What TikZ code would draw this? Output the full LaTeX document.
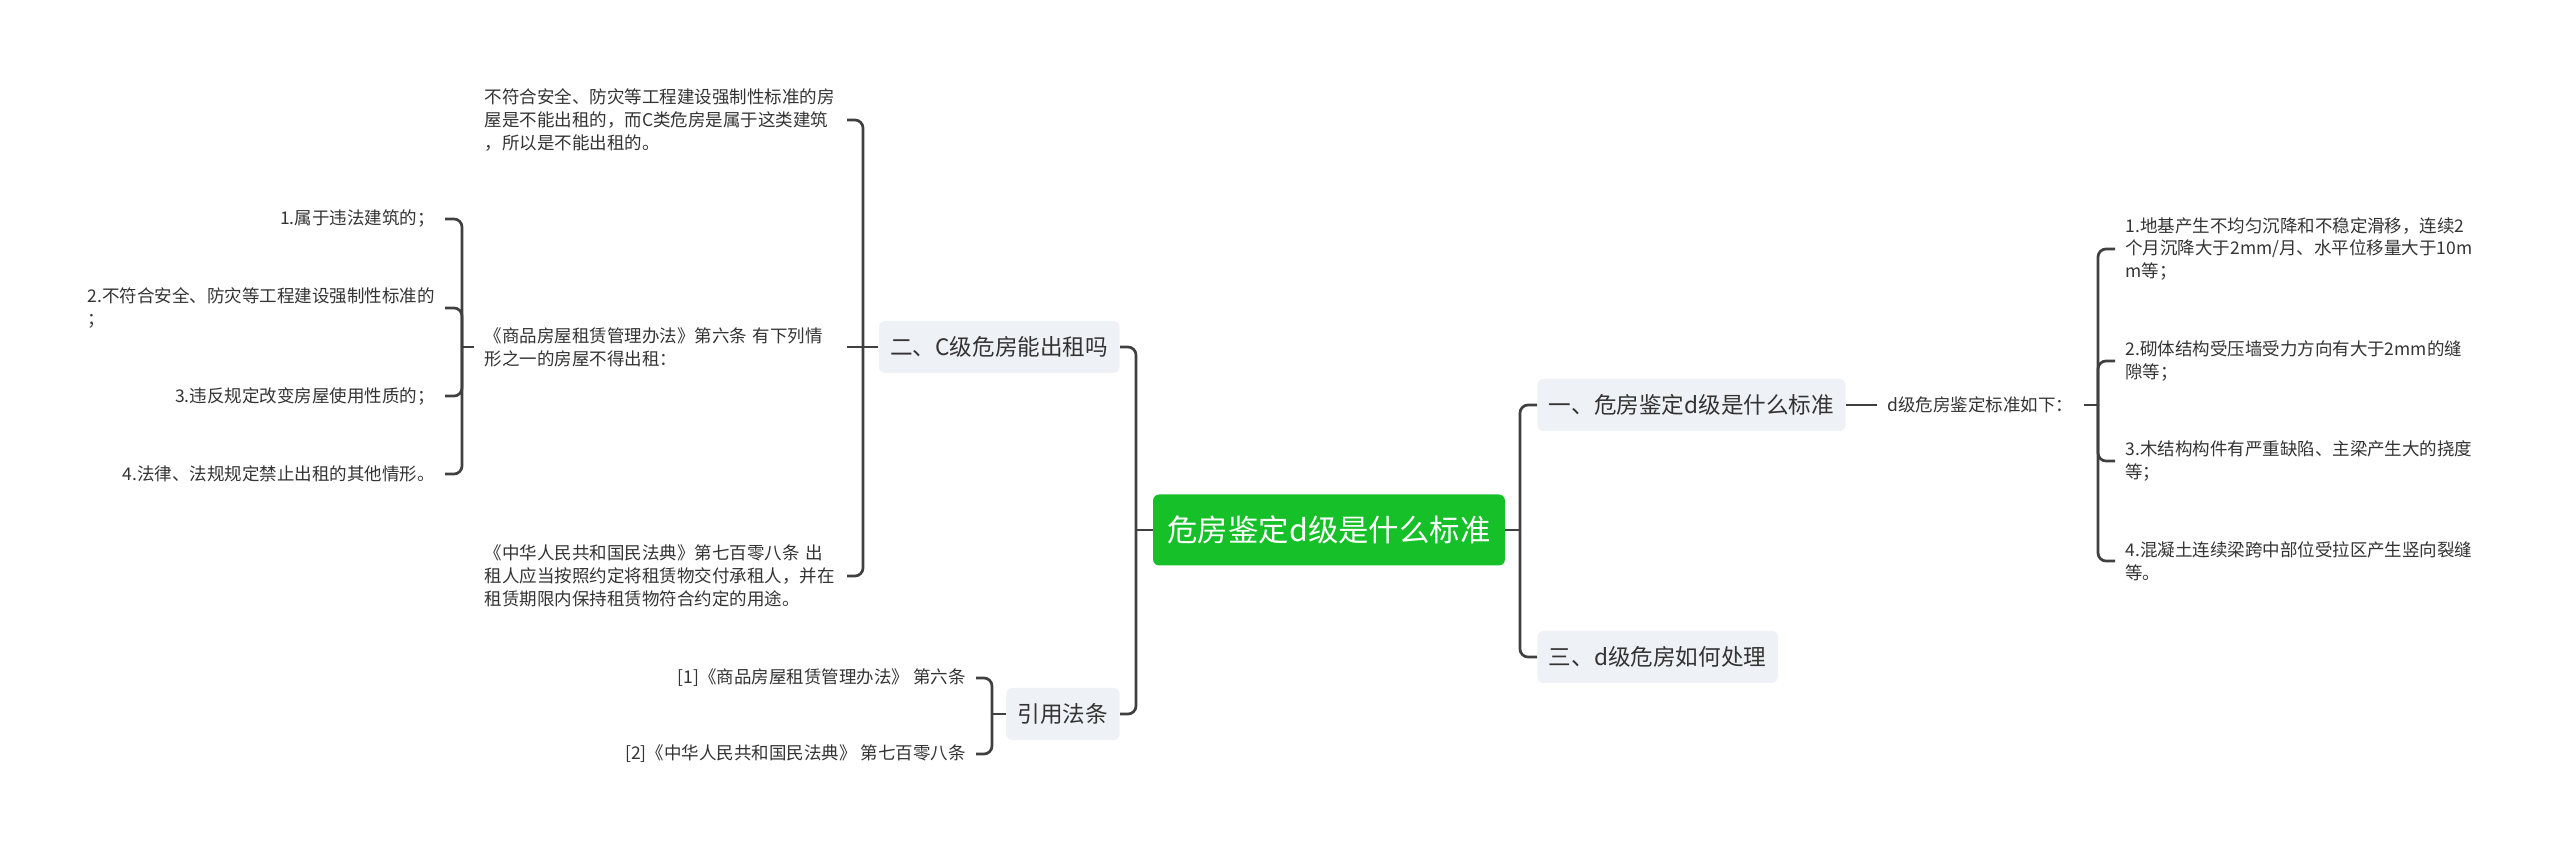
\documentclass[tikz,border=0pt]{standalone}
\usepackage{fontspec}
\setmainfont{Noto Sans CJK SC}

\definecolor{linegray}{RGB}{64,64,64}
\definecolor{textgray}{RGB}{51,51,51}
\definecolor{boxgray}{RGB}{238,241,245}
\definecolor{rootgreen}{RGB}{22,192,40}

\tikzset{
  conn/.style={draw=linegray, line width=1.35pt, rounded corners=4pt},
  elbow/.style={to path={|- (\tikztotarget)}},
  rootbox/.style={fill=rootgreen, text=white, rounded corners=3pt,
    font=\fontsize{15.2pt}{18pt}\selectfont, inner xsep=7.25pt, minimum height=35.5pt},
  topic/.style={fill=boxgray, text=textgray, rounded corners=3pt,
    font=\fontsize{11.3pt}{14pt}\selectfont, inner xsep=5.75pt, minimum height=26pt},
  leaf/.style={text=textgray, font=\fontsize{8.75pt}{11.4pt}\selectfont,
    inner xsep=5pt, inner ysep=2pt, align=left},
}

\begin{document}
\begin{tikzpicture}[x=0.5pt, y=-0.5pt]
   \useasboundingbox (0,0) rectangle (2560,849);

   \node [rootbox] (root) at (1329,530) {危房鉴定d级是什么标准};

   % right side
   \node [topic, anchor=west] (b1) at (1537,405) {一、危房鉴定d级是什么标准};
   \node [topic, anchor=west] (b3) at (1537,657) {三、d级危房如何处理};
   \node [leaf, anchor=west] (crit) at (1877,405) {d级危房鉴定标准如下：};
   \node [leaf, anchor=west] (r1) at (2115,249) {1.地基产生不均匀沉降和不稳定滑移，连续2\\个月沉降大于2mm/月、水平位移量大于10m\\m等；};
   \node [leaf, anchor=west] (r2) at (2115,361) {2.砌体结构受压墙受力方向有大于2mm的缝\\隙等；};
   \node [leaf, anchor=west] (r3) at (2115,461) {3.木结构构件有严重缺陷、主梁产生大的挠度\\等；};
   \node [leaf, anchor=west] (r4) at (2115,561) {4.混凝土连续梁跨中部位受拉区产生竖向裂缝\\等。};

   % left side
   \node [topic, anchor=east] (l1) at (1120,347) {二、C级危房能出租吗};
   \node [topic, anchor=east] (l2) at (1120,714) {引用法条};
   \node [leaf, anchor=east, text width=176pt] (c1) at (847,120) {不符合安全、防灾等工程建设强制性标准的房\\屋是不能出租的，而C类危房是属于这类建筑\\，所以是不能出租的。};
   \node [leaf, anchor=east, text width=176pt] (c2) at (847,347) {《商品房屋租赁管理办法》第六条 有下列情\\形之一的房屋不得出租：};
   \node [leaf, anchor=east, text width=176pt] (c3) at (847,576) {《中华人民共和国民法典》第七百零八条 出\\租人应当按照约定将租赁物交付承租人，并在\\租赁期限内保持租赁物符合约定的用途。};
   \node [leaf, anchor=east] (g1) at (445,219) {1.属于违法建筑的；};
   \node [leaf, anchor=east] (g2) at (445,308) {2.不符合安全、防灾等工程建设强制性标准的\\；};
   \node [leaf, anchor=east] (g3) at (445,396) {3.违反规定改变房屋使用性质的；};
   \node [leaf, anchor=east] (g4) at (445,474) {4.法律、法规规定禁止出租的其他情形。};
   \node [leaf, anchor=east] (ref1) at (976,678) {[1]《商品房屋租赁管理办法》 第六条};
   \node [leaf, anchor=east] (ref2) at (976,754) {[2]《中华人民共和国民法典》 第七百零八条};

   % junctions
   \coordinate (jb) at (1520,530);
   \coordinate (jr) at (2098,405);
   \coordinate (jl) at (1136,530);
   \coordinate (jc) at (863,347);
   \coordinate (jg) at (462,347);
   \coordinate (jref) at (992,714);

   \path[conn] (root.east) edge (jb)
               (jb) edge[elbow] (b1.west)
               (jb) edge[elbow] (b3.west)
               (b1.east) edge (crit.west)
               (crit.east) edge (jr)
               (jr) edge[elbow] (r1.west)
               (jr) edge[elbow] (r2.west)
               (jr) edge[elbow] (r3.west)
               (jr) edge[elbow] (r4.west);

   \path[conn] (root.west) edge (jl)
               (jl) edge[elbow] (l1.east)
               (jl) edge[elbow] (l2.east)
               (l1.west) edge (jc)
               (jc) edge[elbow] (c1.east)
               (jc) edge (c2.east)
               (jc) edge[elbow] (c3.east)
               (c2.west) edge (jg)
               (jg) edge[elbow] (g1.east)
               (jg) edge[elbow] (g2.east)
               (jg) edge[elbow] (g3.east)
               (jg) edge[elbow] (g4.east)
               (l2.west) edge (jref)
               (jref) edge[elbow] (ref1.east)
               (jref) edge[elbow] (ref2.east);
\end{tikzpicture}
\end{document}
